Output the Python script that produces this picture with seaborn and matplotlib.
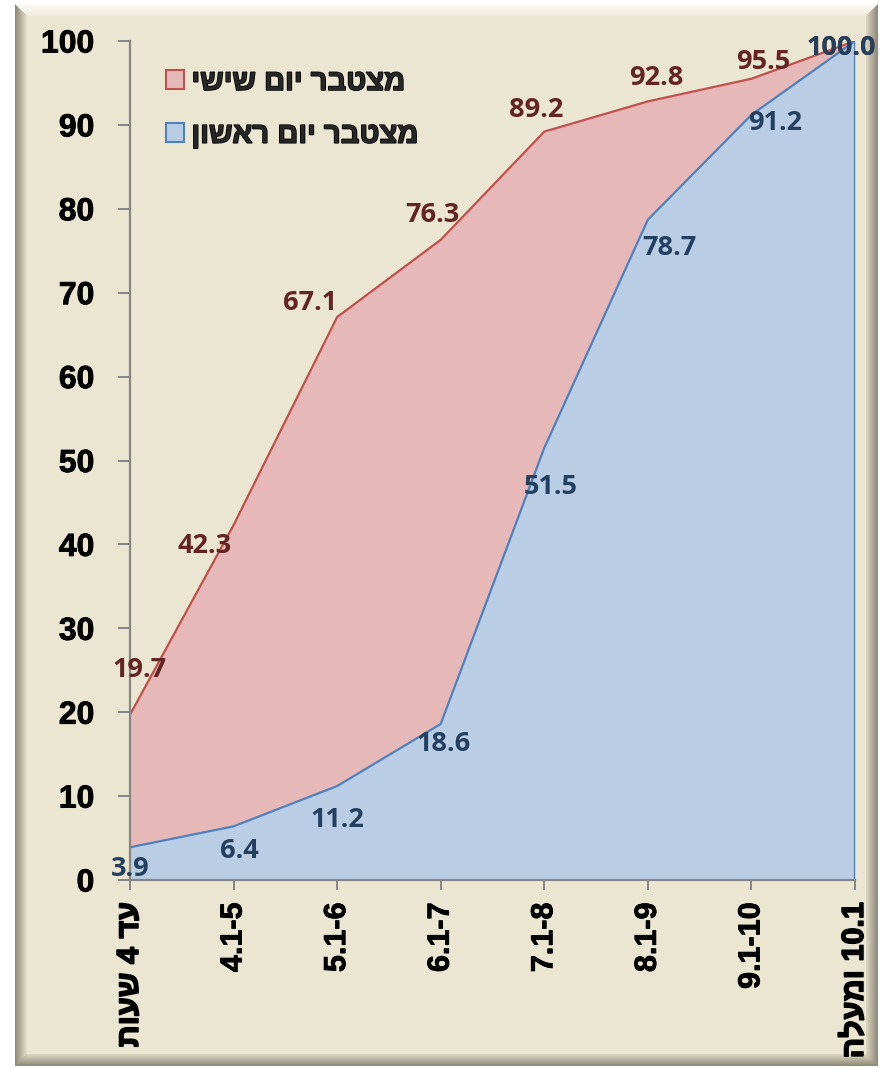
import numpy as np
import pandas as pd
import matplotlib
matplotlib.use("Agg")
import matplotlib.pyplot as plt
import matplotlib.patheffects as pe
import seaborn as sns
from matplotlib.patches import Polygon, Patch

# ---------------- data ----------------
categories = ["עד 4 שעות", "4.1-5", "5.1-6", "6.1-7", "7.1-8", "8.1-9", "9.1-10", "10.1 ומעלה"]
friday = [19.7, 42.3, 67.1, 76.3, 89.2, 92.8, 95.5, 100.0]
sunday = [3.9, 6.4, 11.2, 18.6, 51.5, 78.7, 91.2, 100.0]
series_names = ["מצטבר יום שישי", "מצטבר יום ראשון"]
y_ticks = list(range(0, 101, 10))

# ---------------- styles ----------------
RED_FILL, RED_LINE, RED_TEXT = "#E6B8B7", "#C0504D", "#632523"
BLUE_FILL, BLUE_LINE, BLUE_TEXT = "#B9CDE5", "#4F81BD", "#244061"
BEIGE = "#EBE6D1"
GRAY = "#868686"
# label offsets in pixels (dx, dy up)
red_offsets = [(10, 48), (-29, -18), (-27, 17), (-8, 28), (-8, 25), (8, 26), (12, 20), (-14, -4)]
blue_offsets = [(0, -19), (6, -22), (0, -31), (3, -17), (6, -36), (22, -25), (24, -5), (-14, -4)]


def is_hebrew(s):
    return any("\u0590" <= c <= "\u05FF" for c in s)


def visual(s):
    """Convert logical RTL text into visual left-to-right order."""
    words = s.split(" ")
    out = []
    for w in reversed(words):
        out.append(w[::-1] if is_hebrew(w) else w)
    return " ".join(out)


sns.set_theme(style="white")
plt.rcParams["font.family"] = ["Liberation Sans", "DejaVu Sans"]
plt.rcParams["font.weight"] = "bold"

W, H = 882, 1068
fig = plt.figure(figsize=(W / 100, H / 100), dpi=100, facecolor="white")


def P(x, y):
    return (x / W, 1 - y / H)


# ---------------- beveled frame ----------------
x0, x1, y0, y1 = 15, 878, 4, 1066
steps = 12


def mix(c1, c2, t):
    c1 = np.array(matplotlib.colors.to_rgb(c1))
    c2 = np.array(matplotlib.colors.to_rgb(c2))
    return tuple(c1 * (1 - t) + c2 * t)


fig.patches.append(Polygon([P(x0, y0), P(x1, y0), P(x1, y1), P(x0, y1)],
                           closed=True, transform=fig.transFigure,
                           facecolor="#9E9985", edgecolor="none", zorder=-5))
for i in range(steps):
    t = i / (steps - 1)
    a, b = i, i + 1
    fig.patches.append(Polygon([P(x0 + a, y0 + a), P(x0 + b, y0 + b), P(x0 + b, y1 - b), P(x0 + a, y1 - a)],
                               transform=fig.transFigure, facecolor=mix("#8F8A78", "#E2DDC8", t),
                               edgecolor="none", zorder=-4))
    fig.patches.append(Polygon([P(x1 - a, y0 + a), P(x1 - b, y0 + b), P(x1 - b, y1 - b), P(x1 - a, y1 - a)],
                               transform=fig.transFigure, facecolor=mix("#8F8A78", "#D8D3BE", t),
                               edgecolor="none", zorder=-4))
    fig.patches.append(Polygon([P(x0 + a, y0 + a), P(x1 - a, y0 + a), P(x1 - b, y0 + b), P(x0 + b, y0 + b)],
                               transform=fig.transFigure, facecolor=mix("#FBFAF4", "#F0ECDD", t),
                               edgecolor="none", zorder=-3))
    fig.patches.append(Polygon([P(x0 + a, y1 - a), P(x1 - a, y1 - a), P(x1 - b, y1 - b), P(x0 + b, y1 - b)],
                               transform=fig.transFigure, facecolor=mix("#8F8A78", "#DAD5C0", t),
                               edgecolor="none", zorder=-3))
fig.patches.append(Polygon([P(x0 + steps, y0 + steps), P(x1 - steps, y0 + steps),
                            P(x1 - steps, y1 - steps), P(x0 + steps, y1 - steps)],
                           transform=fig.transFigure, facecolor=BEIGE, edgecolor="none", zorder=-2))

# ---------------- axes ----------------
ax = fig.add_axes([130 / W, 1 - 880 / H, 725 / W, 839 / H])
ax.set_facecolor("none")

x = np.arange(len(categories))
df = pd.DataFrame({
    "x": np.concatenate([x, x]),
    "y": friday + sunday,
    "series": [series_names[0]] * len(x) + [series_names[1]] * len(x),
})

ax.fill_between(x, 0, friday, color=RED_FILL, lw=0, zorder=1)
sns.lineplot(data=df[df.series == series_names[0]], x="x", y="y", color=RED_LINE,
             lw=1.6, ax=ax, zorder=2, legend=False, sort=False)
ax.fill_between(x, 0, sunday, color=BLUE_FILL, lw=0, zorder=3)
sns.lineplot(data=df[df.series == series_names[1]], x="x", y="y", color=BLUE_LINE,
             lw=1.6, ax=ax, zorder=4, legend=False, sort=False)
ax.plot([x[-1], x[-1]], [0, sunday[-1]], color=BLUE_LINE, lw=1.6, zorder=4)

ax.set_xlim(x[0], x[-1])
ax.set_ylim(0, 100)
ax.set_xlabel("")
ax.set_ylabel("")

for s in ["top", "right"]:
    ax.spines[s].set_visible(False)
for s in ["left", "bottom"]:
    ax.spines[s].set_color(GRAY)
    ax.spines[s].set_linewidth(1.6)
    ax.spines[s].set_zorder(5)

bold_fx = [pe.withStroke(linewidth=0.6, foreground="black")]
heb_fx = [pe.withStroke(linewidth=1.1, foreground="black")]

ax.set_yticks(y_ticks)
ax.set_yticklabels([str(v) for v in y_ticks], fontsize=23, fontweight="bold", color="black")
ax.set_xticks(x)
ax.set_xticklabels([visual(c) for c in categories], rotation=90, fontsize=22,
                   fontweight="bold", color="black")
ax.tick_params(axis="y", direction="out", length=8.6, width=1.4, color=GRAY, pad=17, left=True)
ax.tick_params(axis="x", direction="out", length=7, width=1.4, color=GRAY, pad=9, bottom=True)
for lbl in ax.get_yticklabels():
    lbl.set_path_effects(bold_fx)
for lbl, c in zip(ax.get_xticklabels(), categories):
    lbl.set_path_effects(heb_fx if is_hebrew(c) else bold_fx)

# ---------------- data labels ----------------
for vals, offs, col in [(friday, red_offsets, RED_TEXT), (sunday, blue_offsets, BLUE_TEXT)]:
    for xi, v, (dx, dy) in zip(x, vals, offs):
        ax.annotate(f"{v:.1f}", (xi, v), xytext=(dx, dy), textcoords="offset pixels",
                    ha="center", va="center_baseline", fontsize=19.5, fontweight="bold",
                    color=col, family=["Open Sans", "DejaVu Sans"], zorder=6,
                    annotation_clip=False)

# ---------------- legend ----------------
handles = [Patch(facecolor=RED_FILL, edgecolor=RED_LINE, lw=1.5),
           Patch(facecolor=BLUE_FILL, edgecolor=BLUE_LINE, lw=1.5)]
leg = ax.legend(handles, [visual(s) for s in series_names], loc="upper left",
                bbox_to_anchor=P(166, 68), bbox_transform=fig.transFigure, frameon=False,
                prop={"size": 21, "weight": "bold"}, handlelength=0.62, handleheight=0.62,
                handletextpad=0.25, labelspacing=0.85, borderpad=0, borderaxespad=0)
for t in leg.get_texts():
    t.set_path_effects(heb_fx)

fig.savefig("out.png", dpi=100, facecolor=fig.get_facecolor())
